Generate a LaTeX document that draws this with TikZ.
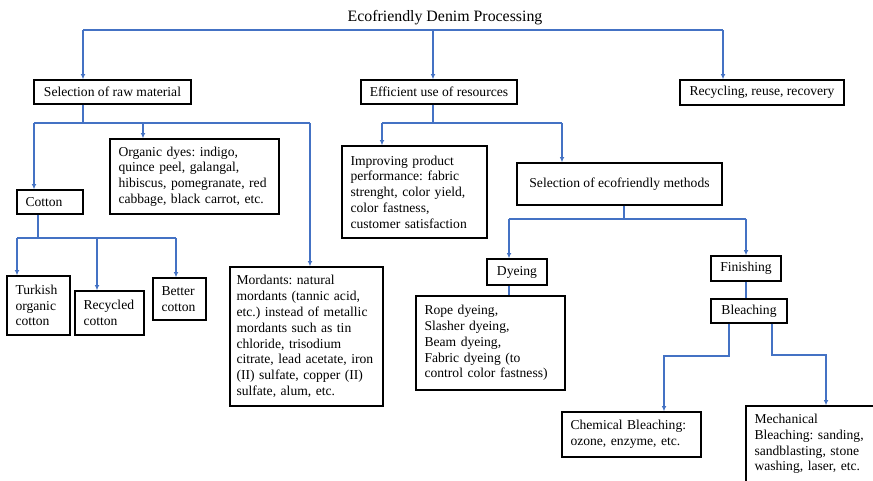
\documentclass[tikz,border=0pt]{standalone}
\usepackage{fontspec}
\setmainfont{Liberation Serif}
\usepackage{tikz}
\usetikzlibrary{arrows.meta}
\definecolor{linkblue}{HTML}{4472C4}

\begin{document}
\begin{tikzpicture}[x=0.75pt, y=-0.75pt, font=\fontsize{10.2}{11.85}\selectfont\frenchspacing,
	box/.style={draw, line width=1pt, inner xsep=6.4pt, inner ysep=2pt, align=left},
	link/.style={color=linkblue, line width=0.9pt},
	arr/.style={link, -{Latex[length=4pt,width=3.6pt]}}]
	\path[use as bounding box, clip] (0,0) rectangle (873,480);
	\node (title) at (445,18) {\fontsize{11.9}{14}\selectfont Ecofriendly Denim Processing};
	\node[box, align=center, minimum width=117.75pt, minimum height=18pt] (raw) at (112.5,92) {Selection of raw material};
	\node[box, align=center, minimum width=117pt, minimum height=18pt] (eff) at (439,92) {Efficient use of resources};
	\node[box, align=center, minimum width=123pt, minimum height=18.75pt] (rec) at (762,92.5) {Recycling, reuse, recovery};
	\node[box, text width=36.75pt, minimum height=18pt] (cotton) at (50,202) {Cotton};
	\node[box, text width=114pt, minimum height=56.25pt] (dyes) at (194.5,176.5) {Organic dyes: indigo,\\ quince peel, galangal,\\ hibiscus, pomegranate, red\\ cabbage, black carrot, etc.};
	\node[box, text width=34.5pt, minimum height=44.25pt] (turk) at (38.5,305.5) {Turkish\\ organic\\ cotton};
	\node[box, text width=39pt, minimum height=33pt] (recyc) at (109.5,313) {Recycled\\ cotton};
	\node[box, text width=27pt, minimum height=31.5pt] (better) at (179.5,299) {Better\\ cotton};
	\node[box, inner xsep=4.9pt, text width=105pt, minimum height=104.25pt] (mord) at (306.5,336.5) {Mordants: natural\\ mordants (tannic acid,\\ etc.) instead of metallic\\ mordants such as tin\\ chloride, trisodium\\ citrate, lead acetate, iron\\ (II) sulfate, copper (II)\\ sulfate, alum, etc.};
	\node[box, text width=96pt, minimum height=69pt] (impr) at (414.5,192) {Improving product\\ performance: fabric\\ strenght, color yield,\\ color fastness,\\ customer satisfaction};
	\node[box, align=center, minimum width=153.75pt, minimum height=31.5pt] (meth) at (619.5,184) {Selection of ecofriendly methods};
	\node[box, align=center, minimum width=45pt, minimum height=19.5pt] (dye) at (517,272) {Dyeing};
	\node[box, text width=99pt, minimum height=70.5pt] (rope) at (490.5,343) {Rope dyeing,\\ Slasher dyeing,\\ Beam dyeing,\\ Fabric dyeing (to\\ control color fastness)};
	\node[box, align=center, minimum width=52.5pt, minimum height=18.75pt] (fin) at (746,268.5) {Finishing};
	\node[box, align=center, minimum width=57pt, minimum height=18pt] (bleach) at (749,311) {Bleaching};
	\node[box, text width=91.5pt, minimum height=33.75pt] (chem) at (631.5,434.5) {Chemical Bleaching:\\ ozone, enzyme, etc.};
	\node[box, text width=87.75pt, minimum height=57pt] (mech) at (813,444) {Mechanical\\ Bleaching: sanding,\\ sandblasting, stone\\ washing, laser, etc.};

	\coordinate (tA) at (83,30);
	\coordinate (tB) at (433,30);
	\coordinate (tC) at (723,30);
	\draw[link] (tA) -- (tC);
	\draw[arr] (tA) -- (raw.north -| tA);
	\draw[arr] (tB) -- (eff.north -| tB);
	\draw[arr] (tC) -- (rec.north -| tC);

	\coordinate (rj) at (83,123);
	\coordinate (r1) at (34,123);
	\coordinate (r2) at (143,123);
	\coordinate (r3) at (310,123);
	\draw[link] (raw.south -| rj) -- (rj);
	\draw[link] (r1) -- (r3);
	\draw[arr] (r1) -- (cotton.north -| r1);
	\draw[arr] (r2) -- (dyes.north -| r2);
	\draw[arr] (r3) -- (mord.north -| r3);

	\coordinate (cj) at (38,238);
	\coordinate (c1) at (17,238);
	\coordinate (c2) at (97,238);
	\coordinate (c3) at (176,238);
	\draw[link] (cotton.south -| cj) -- (cj);
	\draw[link] (c1) -- (c3);
	\draw[arr] (c1) -- (turk.north -| c1);
	\draw[arr] (c2) -- (recyc.north -| c2);
	\draw[arr] (c3) -- (better.north -| c3);

	\coordinate (ej) at (433,123);
	\coordinate (e1) at (382,123);
	\coordinate (e2) at (562,123);
	\draw[link] (eff.south -| ej) -- (ej);
	\draw[link] (e1) -- (e2);
	\draw[arr] (e1) -- (impr.north -| e1);
	\draw[arr] (e2) -- (meth.north -| e2);

	\coordinate (mj) at (624,219);
	\coordinate (m1) at (509,219);
	\coordinate (m2) at (746,219);
	\draw[link] (meth.south -| mj) -- (mj);
	\draw[link] (m1) -- (m2);
	\draw[arr] (m1) -- (dye.north -| m1);
	\draw[arr] (m2) -- (fin.north -| m2);
	\draw[link] (dye.south -| m1) -- (rope.north -| m1);
	\draw[link] (fin.south) -- (bleach.north -| fin.south);

	\coordinate (b1) at (729,356);
	\coordinate (b2) at (664,356);
	\coordinate (b3) at (772,355);
	\coordinate (b4) at (826,355);
	\draw[arr] (bleach.south -| b1) -- (b1) -- (b2) -- (chem.north -| b2);
	\draw[arr] (bleach.south -| b3) -- (b3) -- (b4) -- (mech.north -| b4);
\end{tikzpicture}
\end{document}
